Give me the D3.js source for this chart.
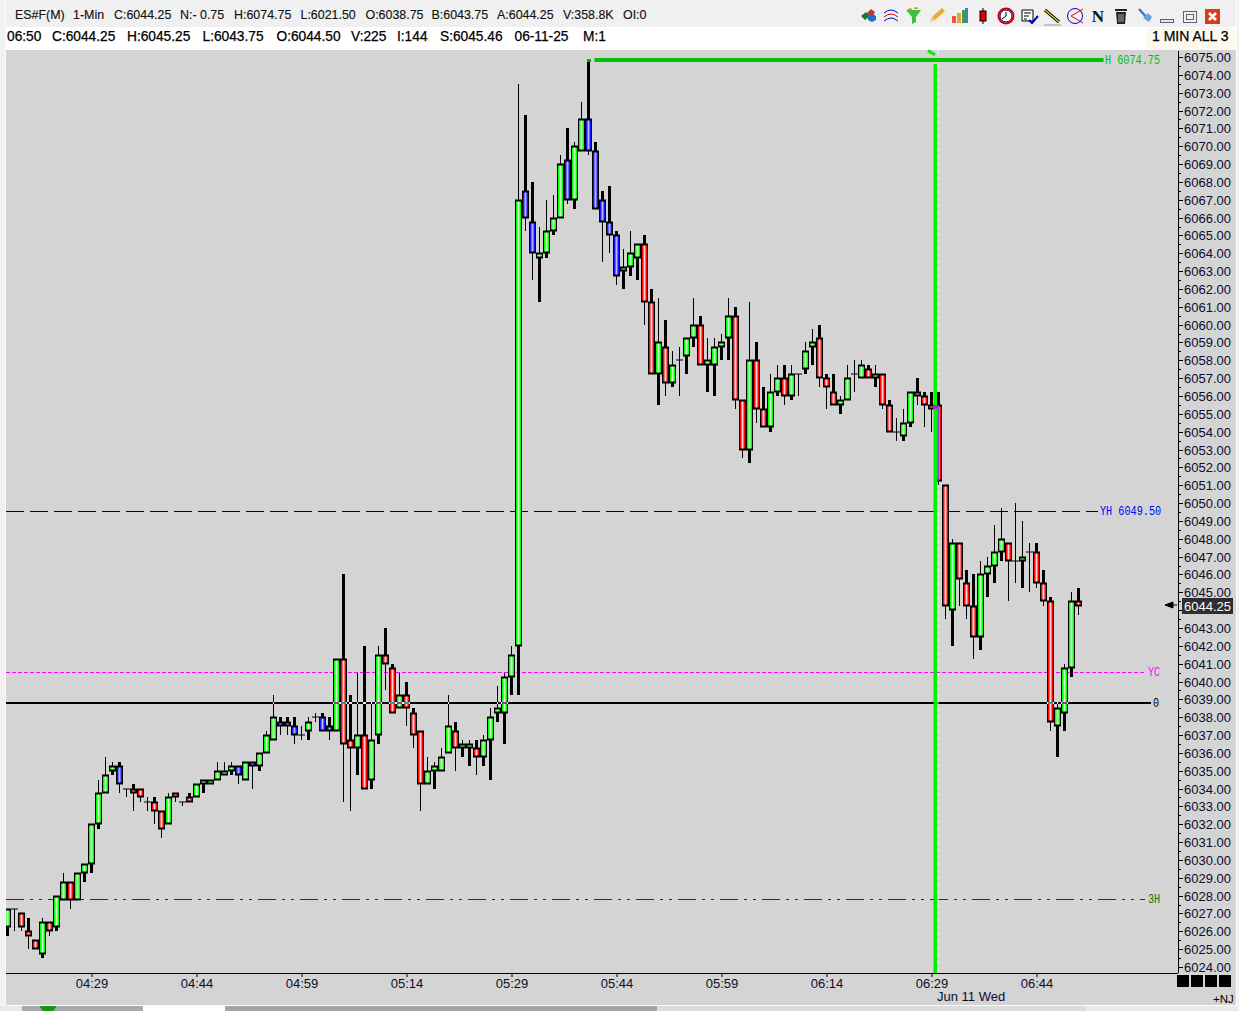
<!DOCTYPE html>
<html><head><meta charset="utf-8">
<script src="https://cdnjs.cloudflare.com/ajax/libs/d3/7.8.5/d3.min.js"></script>
<style>html,body{margin:0;padding:0;background:#fff;overflow:hidden}svg{display:block;font-family:"Liberation Sans",Arial,sans-serif}</style>
</head><body><svg id="c" width="1239" height="1011" font-family="Liberation Sans"></svg>
<script>
const opens=[6026.25,6027.25,6027,6026,6025.5,6024.75,6026.5,6026.25,6027.75,6028.75,
6027.75,6029.25,6029.75,6032,6033.75,6035,6035.25,6034,6034,6034,
6033.25,6033.25,6032.75,6032,6033.75,6033.25,6033.5,6033.5,6034.25,6034.25,
6034.5,6034.75,6035,6035.25,6034.5,6035.5,6035.25,6036,6036.75,6037.75,
6037.75,6037.5,6037,6037.25,6038,6038,6037.5,6037.25,6041.25,6036.75,
6036.25,6037,6034.5,6037,6041.5,6040.75,6038.5,6039.25,6038.25,6037.25,
6034.25,6035,6035,6036,6037.25,6036.25,6036.25,6036.25,6035.75,6036.75,
6038.25,6038.25,6040.25,6042,6067.5,6065.75,6063.75,6064,6065.25,6066,
6069.25,6067,6069.75,6071.5,6069.75,6067,6065.75,6065,6063,6063.25,
6063.75,6064.5,6061.25,6057.25,6058.75,6056.75,6058,6058.25,6059.25,6060,
6057.75,6057.75,6058.75,6059.25,6060.5,6055.75,6053,6058,6055.25,6054.25,
6056.25,6057,6056,6057.25,6057.5,6058.75,6059.25,6057,6056.25,6055.5,
6055.75,6057.25,6057,6057.5,6057,6057.25,6055.5,6054,6053.75,6054.5,
6056.25,6056,6055.5,6055.5,6051,6044,6047.75,6045.5,6044.25,6042.5,
6046,6046.5,6047.25,6047.75,6046.75,6046.75,6047.25,6047.25,6045.5,6044.5,
6037.5,6038.25,6040.75,6044.5];
const closes=[6027.25,6027.25,6026.25,6025.75,6025,6026.5,6026,6028,6028.75,6027.75,
6029.25,6029.75,6032,6033.75,6034.75,6035.25,6034.25,6034,6033.75,6033.5,
6033.25,6032.75,6031.75,6033.5,6033.5,6033.25,6033.25,6034.25,6034.5,6034.5,
6035,6035,6035.25,6034.75,6035.5,6035.25,6036,6037,6038,6037.5,
6037.5,6037,6037,6037.75,6038,6037.25,6037.25,6041.25,6036.5,6036.25,
6037,6034,6036.75,6041.5,6041,6038.25,6039.25,6038.5,6037,6034.25,
6035,6035.25,6035.75,6037.5,6036.25,6036.5,6036.5,6035.75,6036.75,6038,
6038.5,6040.25,6041.5,6067,6066,6064,6064,6065.25,6066,6069,
6067,6070,6071.5,6069.75,6066.5,6065.75,6065,6062.75,6063.25,6064,
6064.5,6061.25,6057.25,6059,6056.75,6057.75,6058,6059.25,6060,6057.75,
6058,6058.75,6059,6060.5,6055.75,6053,6058,6055.25,6054.25,6056.25,
6057,6056,6057.25,6057.25,6058.5,6059,6057,6056.5,6055.5,6055.75,
6057,6057.25,6057.75,6057,6057.25,6055.5,6054,6054,6054.5,6056.25,
6056,6055.5,6055.25,6051.25,6044.25,6047.75,6045.75,6044.25,6042.5,6046,
6046.5,6047.25,6048,6046.75,6046.75,6047,6047.25,6045.5,6044.5,6037.75,
6038.5,6040.75,6044.5,6044.25];
const highs=[6027.25,6027.25,6027,6026.75,6025.5,6026.75,6026.5,6028,6029.25,6028.75,
6029.25,6029.75,6032,6034.5,6035.75,6035.5,6035.5,6034,6034.25,6034,
6033.5,6033.5,6032.75,6033.75,6033.75,6033.25,6033.75,6034.25,6034.5,6034.5,
6035.5,6035.5,6035.5,6035.25,6035.5,6035.5,6036,6037.25,6039.25,6038,
6038,6038,6037.5,6038,6038.25,6038.25,6038,6041.25,6046,6039.25,
6040.5,6042,6038.75,6042,6043,6041,6040.5,6040,6038.5,6037.25,
6035.75,6035.5,6036.25,6039.25,6037.75,6036.75,6036.75,6036.75,6037,6038.5,
6039.75,6040.5,6042,6073.5,6071.75,6068,6065.5,6067,6067.25,6069.5,
6071,6070.25,6072.5,6074.75,6070.25,6067.5,6067.75,6065.25,6064.25,6065.25,
6064.5,6065,6062,6061.5,6060.25,6058.5,6058.75,6059.25,6061.5,6060.5,
6059.25,6059.25,6059.5,6061.5,6061,6055.75,6061.25,6059,6056.5,6057.25,
6057.75,6057.75,6057.75,6057.25,6059,6059.75,6060,6057.25,6057.25,6056,
6057.75,6058,6058,6057.75,6057.75,6057.25,6055.75,6054.75,6055.25,6056.25,
6057,6056.25,6056.25,6056.25,6051,6048,6047.75,6046.25,6046,6046.75,
6047,6048.75,6049.75,6047.75,6050,6049,6047.75,6047.75,6046.25,6044.75,
6038.75,6041,6045,6045.25];
const lows=[6025.75,6026,6026,6025,6025,6024.5,6025.75,6026,6027.75,6027.25,
6027.75,6028.75,6029.25,6031.75,6033.75,6034.75,6033.75,6033.5,6032.75,6033.25,
6032.75,6032,6031.25,6032,6033.25,6033,6033.25,6033.5,6033.75,6034.25,
6034.5,6034.75,6034.75,6034.25,6034.5,6034,6035,6036,6036.75,6037,
6037,6036.5,6036.75,6036.75,6037.75,6037.25,6036.75,6037.25,6033.25,6032.75,
6034.75,6034,6034,6036.5,6039.5,6038.25,6038.5,6037.5,6036.25,6032.75,
6034.25,6034,6035,6036,6035,6035.75,6035.25,6034.75,6035.25,6034.5,
6037.75,6036.5,6039.25,6039.25,6065.25,6062.5,6061.25,6063.75,6065,6066,
6066.75,6066.5,6069.75,6069.5,6066.5,6063.5,6064,6062.25,6062,6062.75,
6062.5,6060,6057.25,6055.5,6056,6056.5,6056,6057.25,6058.75,6057.75,
6056.25,6056,6058,6058,6055.25,6052.5,6052.25,6054.5,6054.25,6054,
6056,6055.5,6055.75,6056,6057.25,6057.75,6056.5,6055.25,6055.5,6055,
6055.75,6056.25,6057,6057,6056.5,6055.25,6054,6053.5,6053.5,6054.25,
6055.5,6054.25,6054,6051,6043.5,6042,6044.25,6043.5,6041.25,6041.75,
6044.75,6045.5,6046.75,6044.5,6045.5,6045.25,6045,6045.25,6044.25,6037.25,
6035.75,6037.25,6040.25,6043.75];
const blueBars=[16,33,35,39,40,41,45,46,74,75,80,83,84,85,86,87];
const timeLabels=["04:29","04:44","04:59","05:14","05:29","05:44","05:59","06:14","06:29","06:44"];
const timeIndex=[12,27,42,57,72,87,102,117,132,147];
const highLevel=6074.75,yHighLevel=6049.5,yCloseLevel=6040.5,zeroLevel=6038.75,threeHLevel=6027.75,lastPrice=6044.25;
const cursorIndex=132.5;
const row1=[["ES#F(M)",15],["1-Min",73],["C:6044.25",114],["N:- 0.75",180],["H:6074.75",234],["L:6021.50",300.5],["O:6038.75",365.5],["B:6043.75",431.5],["A:6044.25",497],["V:358.8K",563],["OI:0",623]];
const row2=[["06:50",7],["C:6044.25",52],["H:6045.25",127],["L:6043.75",202.5],["O:6044.50",276.5],["V:225",351],["I:144",397],["S:6045.46",440],["06-11-25",514.5],["M:1",583]];

const svg=d3.select("#c");
const x=d3.scaleLinear().domain([0,153]).range([7.5,1078.5]);
const y=d3.scaleLinear().domain([6024,6075]).rangeRound([967,57]);
const bars=opens.map((o,i)=>{const c=closes[i];return {i,o,c,h:highs[i],l:lows[i],
  k:o===c?"d":blueBars.includes(i)?"b":c>o?"g":"r"};});
const defs=svg.append("defs");
const fills={g:["#00ff00","#c8ffc8"],r:["#ff0000","#ffd0d0"],b:["#1414ff","#b4b4ff"]};
Object.entries(fills).forEach(([k,[e,m]])=>{const g=defs.append("linearGradient").attr("id","f"+k);
  g.append("stop").attr("offset","10%").attr("stop-color",e);
  g.append("stop").attr("offset","50%").attr("stop-color",m);
  g.append("stop").attr("offset","90%").attr("stop-color",e);});
defs.append("clipPath").attr("id","pc").append("rect").attr("x",6).attr("y",50).attr("width",1172).attr("height",923);

// window chrome
const R=(X,Y,W,H,f,p=svg)=>p.append("rect").attr("x",X).attr("y",Y).attr("width",W).attr("height",H).attr("fill",f);
R(0,0,1239,1011,"#f1f1f1");
R(0,1006,1239,5,"#e9e9e9");
R(22,1006,121,5,"#a9a9a9");R(143,1006,82,5,"#ffffff");R(225,1006,432,5,"#a4a4a4");R(657,1006,429,5,"#dcdcdc");
R(5,0,1,1006,"#fbfbfb");R(1236,0,1,1006,"#fbfbfb");R(5,1005,1232,1,"#fbfbfb");
R(6,3,1230,24,"#f0f0f0");R(6,27,1230,23,"#ffffff");R(1147,28,88,22,"#fff8ee");
R(6,50,1230,955,"#d4d4d4");
svg.append("path").attr("d","M40 1006h16a8 6 0 0 1 -16 0z").attr("fill","#119911");

// header texts
const squeeze=(sel,f)=>sel.each(function(){this.setAttribute("textLength",this.getComputedTextLength()*f);this.setAttribute("lengthAdjust","spacingAndGlyphs");});
svg.append("g").selectAll("text").data(row1).join("text").attr("x",d=>d[1]).attr("y",19).text(d=>d[0]).attr("font-size",13.5).attr("fill","#111").attr("stroke","#111").attr("stroke-width",.15).call(squeeze,.92);
svg.append("g").selectAll("text").data(row2).join("text").attr("x",d=>d[1]).attr("y",41).text(d=>d[0]).attr("font-size",14).attr("fill","#000").attr("stroke","#000").attr("stroke-width",.25).call(squeeze,.98);
svg.append("text").attr("x",1152).attr("y",41).text("1 MIN ALL 3").attr("font-size",14).attr("fill","#000").attr("stroke","#000").attr("stroke-width",.25);

// toolbar icons (decorative)
const ic=svg.append("g").attr("fill","none");
const P=(d,s,f,w=1)=>ic.append("path").attr("d",d).attr("stroke",s||"none").attr("fill",f||"none").attr("stroke-width",w);
P("M861 16l5-4 4 4-5 4z",null,"#117a3a");P("M867 13l4-4 4 3-2 4-5 0z",null,"#c0392b");P("M868 17l5-3 3 2v4l-4 2-4-2z",null,"#1e6fd0");
P("M884 13q7-6 14 0","#0000e0");P("M884 17q7-6 14 0","#e00000");P("M884 21q7-6 14 0","#0000e0");
P("M906 10h15l-5 7v5l-4 2v-7z",null,"#3fbf3f");P("M908 10a2 2 0 0 1 4 0M914 9a2 2 0 0 1 4 0",null,"#e09030");
P("M930 22l2-5 10-9 3 3-10 9z",null,"#f0a838");P("M930 22l2-5 3 3z",null,"#e8d0a0");
R(952,16,4,7,"#e8593a",ic);R(957,13,4,10,"#e8a03a",ic);R(962,10,3,13,"#40a040",ic);R(965,8,3,15,"#4080d0",ic);
R(982.5,8,1,16,"#000",ic);R(980,11,6,10,"#e00000",ic).attr("stroke","#000").attr("stroke-width",1);
ic.append("circle").attr("cx",1006).attr("cy",16).attr("r",7.5).attr("stroke","#d00000").attr("stroke-width",2).attr("fill","#fff");
P("M1006 16v-4M1006 16l-4 3","#000");ic.append("circle").attr("cx",1006).attr("cy",16).attr("r",6).attr("stroke","#000060");
P("M1022 10h11v11h-11z","#000","#fff");P("M1024 13h7M1024 16h5M1024 19h3","#000");P("M1029 20l3 3 6-7","#0000c0",null,2);
P("M1045 10l14 12","#000",null,3);P("M1045 10l14 12","#e8c820",null,1.5);P("M1044 25h17","#999");
ic.append("circle").attr("cx",1075).attr("cy",16).attr("r",7.5).attr("stroke","#0000e0").attr("stroke-width",1);
P("M1071 16l12-7M1071 16l12 7","#e00000");
svg.append("text").attr("x",1098).attr("y",22).attr("text-anchor","middle").attr("font-family","Liberation Serif").attr("font-weight","bold").attr("font-size",17).attr("fill","#111").text("N");
P("M1116 12h10l-1 12h-8z",null,"#222");P("M1115 10h12","#222",null,2);P("M1119 14v8M1121 14v8M1123 14v8","#aaa");
P("M1139 9l10 11","#3a7abf",null,2.5);P("M1143 18l5-5 4 4-3 5z",null,"#6fa0d8");
ic.append("rect").attr("x",1160.5).attr("y",19.5).attr("width",13).attr("height",3).attr("stroke","#606070").attr("fill","#e6e6e6");
ic.append("rect").attr("x",1183.5).attr("y",11.5).attr("width",13).attr("height",11).attr("stroke","#606070");
ic.append("rect").attr("x",1186.5).attr("y",14.5).attr("width",7).attr("height",5).attr("stroke","#606070");
R(1205,9,15,15,"#d93a20",ic);P("M1209 13l7 7M1216 13l-7 7","#fff",null,2.5);

// horizontal levels
const lev=svg.append("g").attr("clip-path","url(#pc)");
const hline=(v,x1,col,w,dash)=>lev.append("line").attr("x1",6).attr("x2",x1).attr("y1",y(v)-.5).attr("y2",y(v)-.5).attr("stroke",col).attr("stroke-width",w).attr("stroke-dasharray",dash||null);
hline(yHighLevel,1098,"#000040",1,"18 6");
hline(yCloseLevel,1145,"#ff00ff",1,"4 2");
hline(threeHLevel,1145,"#005000",1,"18 6 3 6 3 6");
lev.append("rect").attr("x",6).attr("y",y(zeroLevel)-2).attr("width",1145).attr("height",2).attr("fill","#000");
// cursor line companion (white dashes)
lev.append("line").attr("x1",x(cursorIndex)+3).attr("x2",x(cursorIndex)+3).attr("y1",50).attr("y2",973).attr("stroke","#f4f4f4").attr("stroke-dasharray","4 3");

// candles
const plot=svg.append("g").attr("clip-path","url(#pc)");
const nb=bars.filter(d=>d.k!=="d"), dj=bars.filter(d=>d.k==="d");
const wick=(up,wf)=>plot.append("g").selectAll("rect").data(bars).join("rect")
  .attr("x",d=>x(d.i)-wf(d)/2).attr("width",wf).attr("fill","#000")
  .attr("y",d=>up?y(d.h):y(Math.min(d.o,d.c)))
  .attr("height",d=>up?y(Math.max(d.o,d.c))-y(d.h):y(d.l)-y(Math.min(d.o,d.c)));
wick(true,d=>(d.k==="r"||d.k==="b")?3:1);
wick(false,d=>d.k==="g"?3:1);
plot.append("g").selectAll("rect").data(nb).join("rect")
  .attr("x",d=>x(d.i)-3.5).attr("width",7).attr("fill","#000")
  .attr("y",d=>y(Math.max(d.o,d.c))-.5).attr("height",d=>y(Math.min(d.o,d.c))-y(Math.max(d.o,d.c))+1);
plot.append("g").selectAll("rect").data(nb).join("rect")
  .attr("x",d=>x(d.i)-2.5).attr("width",5).attr("fill",d=>`url(#f${d.k})`)
  .attr("y",d=>y(Math.max(d.o,d.c))+1.5).attr("height",d=>Math.max(1,y(Math.min(d.o,d.c))-y(Math.max(d.o,d.c))-3));
plot.append("g").selectAll("rect").data(dj).join("rect")
  .attr("x",d=>x(d.i)-3.5).attr("width",7).attr("height",1).attr("y",d=>y(d.c)-.5).attr("fill","#000");

// zero line XOR crossings
const zy=y(zeroLevel)-2;
const cross=bars.filter(d=>d.h>=zeroLevel&&d.l<=zeroLevel);
plot.append("g").selectAll("rect").data(cross).join("rect")
  .attr("x",d=>{const b=Math.min(d.o,d.c)<=zeroLevel&&Math.max(d.o,d.c)>=zeroLevel&&d.k!=="d";return x(d.i)-(b?3.5:(d.k==="g"?(d.o>zeroLevel?1.5:.5):1.5));})
  .attr("width",d=>{const b=Math.min(d.o,d.c)<=zeroLevel&&Math.max(d.o,d.c)>=zeroLevel&&d.k!=="d";return b?7:((d.k==="g"&&d.o>zeroLevel)||(d.k!=="g"&&d.k!=="d"&&d.o<zeroLevel)?3:1);})
  .attr("y",zy).attr("height",2).attr("fill","#f4f4f4");
const inb=cross.filter(d=>Math.min(d.o,d.c)<zeroLevel&&Math.max(d.o,d.c)>zeroLevel&&d.k!=="d");
plot.append("g").selectAll("rect").data(inb).join("rect")
  .attr("x",d=>x(d.i)-2.5).attr("width",5).attr("y",zy).attr("height",2).attr("fill",d=>d.k==="g"?"#a030a0":"#20a0a0");

// high-of-day line + cursor line
const over=svg.append("g");
R(x(83)+3.5+2.5,y(highLevel)-3,509,4,"#00c000",over);
R(x(83)-1.5,y(highLevel)-2,4,3,"#20a020",over);R(x(83)-1,y(highLevel),3,1,"#e000c0",over);
R(x(cursorIndex)-1.5,64,3.5,909,"#00ef00",over);
over.append("path").attr("d","M928 50.5L935 55").attr("stroke","#00ef00").attr("stroke-width",3);
R(x(133)-1,y(6055.5),1.5,y(6051.25)-y(6055.5),"#6a50e0",over);
R(x(cursorIndex)-1.5,y(6055.5),3.5,4,"#b020c0",over);

// level labels
const lbl=(t,X,v,col)=>svg.append("text").attr("x",X).attr("y",y(v)+3).attr("fill",col).attr("font-family","Liberation Mono").attr("font-size",12).text(t).call(squeeze,.85);
lbl("H "+highLevel.toFixed(2),1105,highLevel,"#00c000");
lbl("YH "+yHighLevel.toFixed(2),1100,yHighLevel,"#0000ff");
lbl("YC",1148,yCloseLevel,"#ff00ff");
lbl("0",1153,zeroLevel,"#000");
lbl("3H",1148,threeHLevel,"#008000");

// axes
const all=d3.range(6024,6075.5,.5);
const minor=all.filter(v=>v%1!==0), major=all.filter(v=>v%1===0);
const gyMin=svg.append("g").attr("transform","translate(1178,0)").call(d3.axisRight(y).tickValues(minor).tickSize(3).tickFormat(""));
const gy=svg.append("g").attr("transform","translate(1178,0)").call(d3.axisRight(y).tickValues(major).tickSize(5).tickPadding(1).tickFormat(v=>v===6044?"":d3.format(".2f")(v)));
gy.selectAll(".tick text").attr("font-family","Liberation Sans").attr("font-size",13).attr("fill","#0c0c2c");
gy.selectAll("line").attr("stroke","#000");gyMin.selectAll("line").attr("stroke","#000");
gy.select(".domain").remove();gyMin.select(".domain").remove();
R(1178,51,1,922,"#000");
R(6,973,1172,1,"#000");
const gx=svg.append("g").attr("transform","translate(0,973)").call(d3.axisBottom(x).tickValues(timeIndex).tickSize(4).tickPadding(2).tickFormat((d,i)=>timeLabels[i]));
gx.select(".domain").remove();
gx.selectAll("text").attr("font-family","Liberation Sans").attr("font-size",13).attr("fill","#0c0c2c");
gx.selectAll("line").attr("stroke","#000");
svg.append("text").attr("x",937).attr("y",1001).attr("font-size",13).attr("fill","#0c0c2c").text("Jun 11 Wed");
svg.append("text").attr("x",1213).attr("y",1003).attr("font-size",11.5).attr("fill","#000").text("+NJ");
[1177,1191,1205,1219].forEach(X=>R(X,975,12,12,"#000"));

// last price tag
R(1182,598,51,16,"#2e2e2e");
svg.append("text").attr("x",1184).attr("y",y(lastPrice)+5).attr("font-size",13).attr("fill","#fff").text(lastPrice.toFixed(2));
svg.append("path").attr("d","M1165 605h12M1165 605l8-3v6z").attr("stroke","#000").attr("fill","#000");
</script></body></html>
